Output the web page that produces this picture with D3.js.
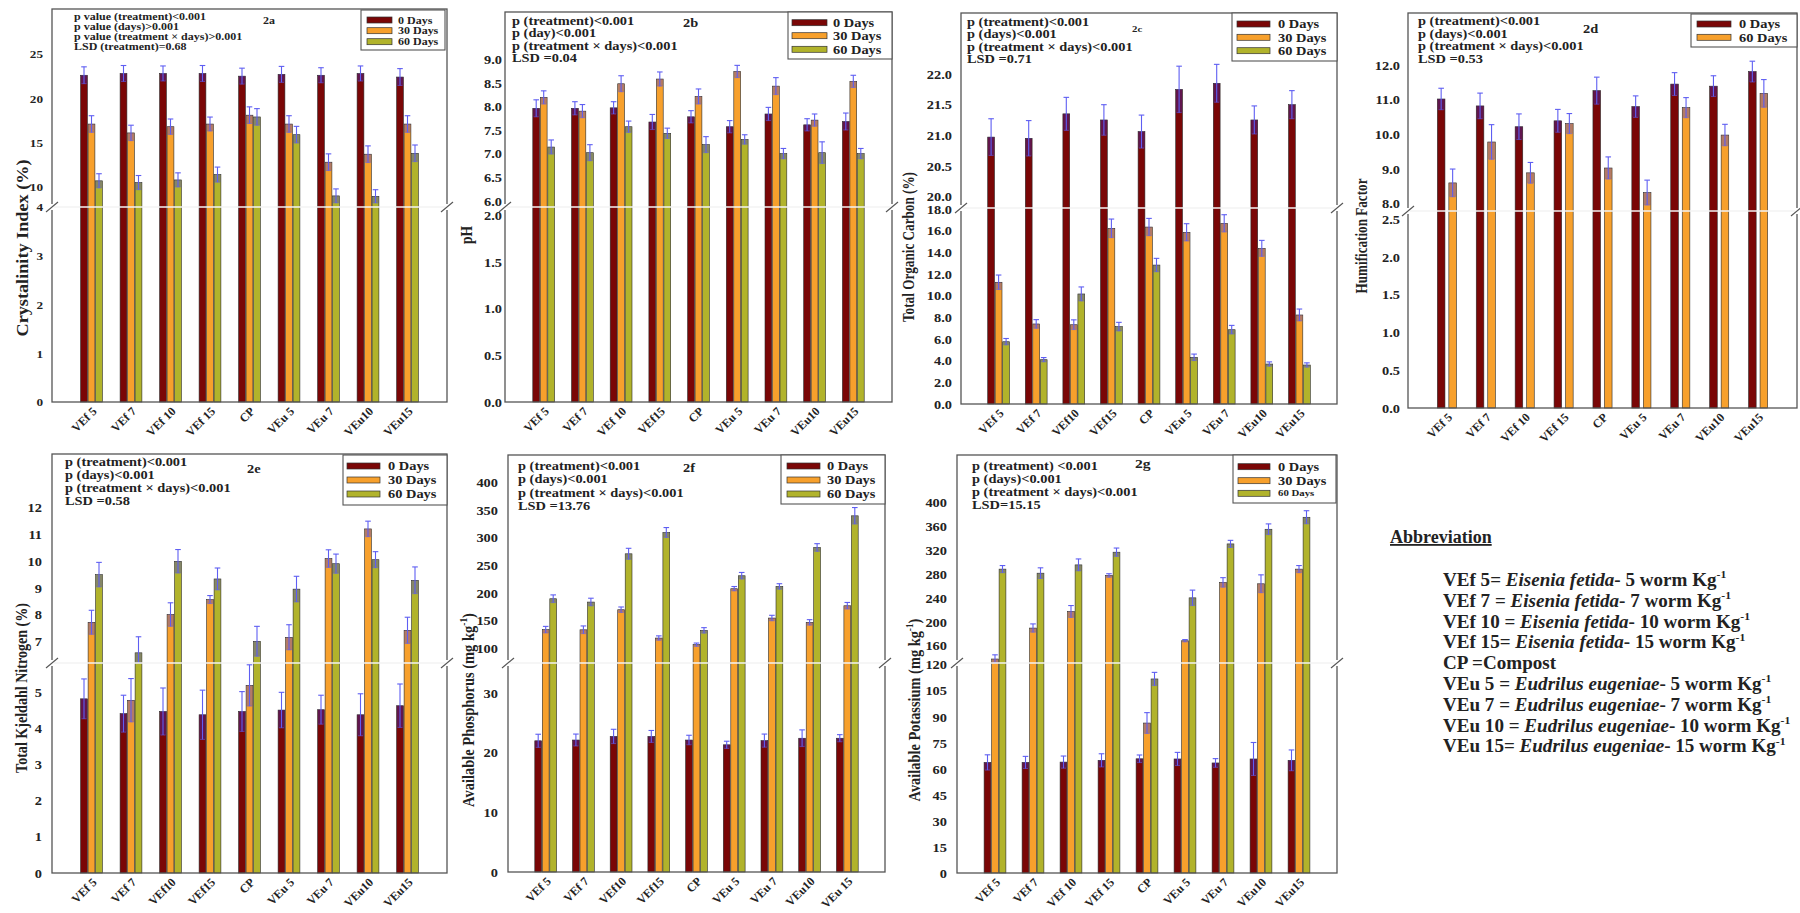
<!DOCTYPE html>
<html><head><meta charset="utf-8">
<script src="https://cdn.jsdelivr.net/npm/d3@7/dist/d3.min.js"></script>
<style>
body{margin:0;background:#fff;}
svg{display:block;}
</style></head><body>
<svg id="c" width="1800" height="913"></svg>
<script>
// ---------------- DATA ----------------
const days3 = ["0 Days", "30 Days", "60 Days"];
const days2 = ["0 Days", "60 Days"];

const labelsA = ["VEf 5","VEf 7","VEf 10","VEf 15","CP","VEu 5","VEu 7","VEu10","VEu15"];
const labelsB = ["VEf 5","VEf 7","VEf 10","VEf15","CP","VEu 5","VEu 7","VEu10","VEu15"];
const labelsC = ["VEf 5","VEf 7","VEf10","VEf15","CP","VEu 5","VEu 7","VEu10","VEu15"];
const labelsD = ["VEf 5","VEf 7","VEf 10","VEf 15","CP","VEu 5","VEu 7","VEu10","VEu15"];
const labelsE = ["VEf 5","VEf 7","VEf10","VEf15","CP","VEu 5","VEu 7","VEu10","VEu15"];
const labelsF = ["VEf 5","VEf 7","VEf10","VEf15","CP","VEu 5","VEu 7","VEu10","VEu 15"];
const labelsG = ["VEf 5","VEf 7","VEf 10","VEf 15","CP","VEu 5","VEu 7","VEu10","VEu15"];

// 2a Crystallinity index (%)
const ci0  = [22.6, 22.8, 22.8, 22.8, 22.5, 22.7, 22.6, 22.8, 22.4];
const ci30 = [17.1, 16.1, 16.8, 17.1, 18.1, 17.1, 12.8, 13.7, 17.1];
const ci60 = [10.7, 10.5, 10.8, 11.4, 17.9, 15.9, 9.0, 8.95, 13.8];
const ciE0  = [0.95, 0.9, 0.85, 0.9, 0.9, 0.9, 0.85, 0.85, 0.95];
const ciE30 = [0.94, 0.87, 0.87, 0.79, 0.94, 0.94, 0.94, 0.94, 0.94];
const ciE60 = [0.8, 0.8, 0.8, 0.85, 0.94, 0.94, 0.79, 0.75, 0.94];

// 2b pH
const ph0  = [7.96, 7.96, 7.97, 7.67, 7.78, 7.57, 7.84, 7.61, 7.68];
const ph30 = [8.19, 7.90, 8.48, 8.58, 8.21, 8.74, 8.43, 7.71, 8.53];
const ph60 = [7.14, 7.02, 7.57, 7.43, 7.19, 7.30, 7.00, 7.02, 7.00];
const phE0  = [0.18, 0.14, 0.13, 0.16, 0.13, 0.13, 0.14, 0.13, 0.18];
const phE30 = [0.14, 0.14, 0.17, 0.15, 0.16, 0.13, 0.18, 0.13, 0.13];
const phE60 = [0.15, 0.17, 0.12, 0.11, 0.17, 0.10, 0.11, 0.23, 0.11];

// 2c Total organic carbon (%)
const toc0  = [20.97, 20.95, 21.35, 21.25, 21.06, 21.75, 21.85, 21.25, 21.50];
const toc30 = [11.24, 7.39, 7.32, 16.22, 16.34, 15.85, 16.68, 14.37, 8.22];
const toc60 = [5.75, 4.09, 10.16, 7.14, 12.83, 4.31, 6.86, 3.69, 3.60];
const tocE0  = [0.30, 0.29, 0.27, 0.25, 0.27, 0.38, 0.31, 0.23, 0.23];
const tocE30 = [0.67, 0.40, 0.45, 0.86, 0.80, 0.80, 0.80, 0.74, 0.55];
const tocE60 = [0.30, 0.20, 0.65, 0.40, 0.62, 0.30, 0.40, 0.20, 0.20];

// 2d Humification factor
const hf0  = [11.02, 10.82, 10.22, 10.39, 11.26, 10.80, 11.45, 11.39, 11.81];
const hf60 = [8.60, 9.78, 8.89, 10.31, 9.03, 8.32, 10.77, 9.98, 11.18];
const hfE0  = [0.31, 0.37, 0.37, 0.33, 0.39, 0.31, 0.33, 0.30, 0.30];
const hfE60 = [0.40, 0.50, 0.30, 0.29, 0.32, 0.36, 0.29, 0.31, 0.40];

// 2e Total Kjeldahl nitrogen (%)
const tkn0  = [4.81, 4.40, 4.46, 4.37, 4.46, 4.50, 4.51, 4.37, 4.62];
const tkn30 = [7.71, 4.77, 8.00, 8.56, 5.18, 7.15, 10.09, 11.20, 7.41];
const tkn60 = [9.49, 6.57, 9.99, 9.33, 7.00, 8.95, 9.90, 10.05, 9.28];
const tknE0  = [0.55, 0.51, 0.65, 0.68, 0.55, 0.49, 0.40, 0.58, 0.60];
const tknE30 = [0.45, 0.60, 0.44, 0.15, 0.57, 0.47, 0.33, 0.29, 0.49];
const tknE60 = [0.46, 0.60, 0.44, 0.41, 0.56, 0.48, 0.36, 0.30, 0.50];

// 2f Available phosphorus (mg/kg)
const ap0  = [21.97, 22.1, 22.7, 22.7, 22.1, 21.3, 22.0, 22.4, 22.4];
const ap30 = [133.2, 133.0, 169.4, 118.0, 106.0, 207.5, 154.3, 146.4, 176.6];
const ap60 = [189.3, 183.3, 270.8, 309.4, 131.9, 231.0, 211.6, 282.2, 339.7];
const apE0  = [1.1, 1.0, 1.2, 1.0, 0.8, 0.6, 1.1, 1.4, 0.6];
const apE30 = [6, 7, 5, 4, 3, 4, 5, 5, 6];
const apE60 = [7, 7, 10, 9, 5, 6, 5, 7, 15];

// 2g Available potassium (mg/kg)
const ak0  = [63.7, 63.7, 63.9, 64.9, 65.8, 65.7, 63.4, 65.7, 64.9];
const ak30 = [137.7, 189.6, 217.4, 277.8, 86.4, 168.3, 266.2, 263.9, 288.5];
const ak60 = [288.5, 281.7, 295.6, 316.9, 111.8, 240.3, 330.8, 355.4, 375.5];
const akE0  = [4.4, 3.5, 3.5, 3.8, 2.2, 3.8, 2.5, 9.5, 6];
const akE30 = [7, 7, 10, 3, 6, 2, 8, 15, 6];
const akE60 = [6, 9, 10, 7, 3.8, 13, 6, 9, 11];

// tick values
const ticksA_lo = [0,1,2,3,4],              ticksA_up = [10,15,20,25];
const ticksB_lo = [0,0.5,1,1.5,2],          ticksB_up = [6,6.5,7,7.5,8,8.5,9];
const ticksC_lo = [0,2,4,6,8,10,12,14,16,18], ticksC_up = [20,20.5,21,21.5,22];
const ticksD_lo = [0,0.5,1,1.5,2,2.5],      ticksD_up = [8,9,10,11,12];
const ticksE_lo = [0,1,2,3,4,5],            ticksE_up = [7,8,9,10,11,12];
const ticksF_lo = [0,10,20,30],             ticksF_up = [100,150,200,250,300,350,400];
const ticksG_lo = [0,15,30,45,60,75,90,105,120], ticksG_up = [160,200,240,280,320,360,400];

const annA = ["p value (treatment)<0.001","p value (days)>0.001","p value (treatment \u00d7 days)>0.001","LSD (treatment)=0.68"];
const annB = ["p (treatment)<0.001","p (day)<0.001","p (treatment \u00d7 days)<0.001","LSD =0.04"];
const annC = ["p (treatment)<0.001","p (days)<0.001","p (treatment \u00d7 days)<0.001","LSD =0.71"];
const annD = ["p (treatment)<0.001","p (days)<0.001","p (treatment \u00d7 days)<0.001","LSD =0.53"];
const annE = ["p (treatment)<0.001","p (days)<0.001","p (treatment \u00d7 days)<0.001","LSD =0.58"];
const annF = ["p (treatment)<0.001","p (days)<0.001","p (treatment \u00d7 days)<0.001","LSD =13.76"];
const annG = ["p (treatment) <0.001","p (days)<0.001","p (treatment \u00d7 days)<0.001","LSD=15.15"];

const abbrev = [
  ["VEf 5=  ","Eisenia fetida","- 5 worm Kg"],
  ["VEf 7 = ","Eisenia fetida","- 7 worm Kg"],
  ["VEf 10 = ","Eisenia fetida","- 10 worm Kg"],
  ["VEf 15= ","Eisenia fetida","- 15 worm Kg"],
  ["CP =Compost","",""],
  ["VEu 5 = ","Eudrilus eugeniae","- 5 worm Kg"],
  ["VEu 7 = ","Eudrilus eugeniae","- 7 worm Kg"],
  ["VEu 10 = ","Eudrilus eugeniae","- 10 worm Kg"],
  ["VEu 15= ","Eudrilus eugeniae","- 15 worm Kg"]
];

// ---------------- STYLE / LAYOUT ----------------
const FONT = "'Liberation Serif','Times New Roman',serif";
const BAR = ["#7a0606", "#f7a02c", "#b1b32b"];
const SX = 1.2;
const svg = d3.select("#c").attr("font-family", FONT);

const panels = [
 {labels:labelsA, series:[ci0,ci30,ci60], errs:[ciE0,ciE30,ciE60], names:days3,
  lowerDom:[0,4], upperDom:[7.75,30.07], lt:ticksA_lo, ut:ticksA_up, fmt:d3.format("d"),
  title:[{t:"Crystalinity Index (%)"}], ann:annA, tag:"2a",
  L:{x0:52,y0:9,x1:447,y1:402,brk:207,tp:9,ts:11,tx:22,ty:248,tl:177,
     ax:74,ay:20,ad:10,as:10,gx:263,gy:24,gs:10,
     leg:{x0:361,y0:10,x1:445,y1:50,rows:[20,30.7,41.7],s0:367,s1:392,tx:398,fs:10}}},
 {labels:labelsB, series:[ph0,ph30,ph60], errs:[phE0,phE30,phE60], names:days3,
  lowerDom:[0,2.09], upperDom:[5.87,10.0], lt:ticksB_lo, ut:ticksB_up, fmt:d3.format(".1f"),
  title:[{t:"pH"}], ann:annB, tag:"2b",
  L:{x0:505,y0:12,x1:892,y1:402,brk:207,tp:3,ts:12,tx:466,ty:235,tl:18,
     ax:512,ay:25,ad:12.3,as:12,gx:683,gy:27,gs:12,
     leg:{x0:788,y0:12,x1:892,y1:59,rows:[22.7,35.7,49.3],s0:792,s1:827,tx:833,fs:12}}},
 {labels:labelsC, series:[toc0,toc30,toc60], errs:[tocE0,tocE30,tocE60], names:days3,
  lowerDom:[0,18.1], upperDom:[19.81,23.0], lt:ticksC_lo, ut:ticksC_up, fmt:d3.format(".1f"),
  title:[{t:"Total Organic Carbon (%)"}], ann:annC, tag:"2c",
  L:{x0:961,y0:13,x1:1337,y1:404,brk:208,tp:9,ts:12,tx:908,ty:247,tl:150,
     ax:967,ay:26,ad:12.3,as:12,gx:1132,gy:32,gs:9,
     leg:{x0:1232,y0:13,x1:1337,y1:61,rows:[24,37.3,50.7],s0:1237,s1:1270,tx:1278,fs:12}}},
 {labels:labelsD, series:[hf0,hf60], errs:[hfE0,hfE60], names:days2,
  lowerDom:[0,2.61], upperDom:[7.79,13.5], lt:ticksD_lo, ut:ticksD_up, fmt:d3.format(".1f"),
  title:[{t:"Humification Factor"}], ann:annD, tag:"2d",
  L:{x0:1408,y0:13,x1:1797,y1:408,brk:211,tp:8,ts:12,tx:1361,ty:236,tl:115,
     ax:1418,ay:25,ad:12.6,as:12,gx:1583,gy:33,gs:12,
     leg:{x0:1691,y0:14,x1:1797,y1:47,rows:[24,37.3],s0:1697,s1:1731,tx:1739,fs:12}}},
 {labels:labelsE, series:[tkn0,tkn30,tkn60], errs:[tknE0,tknE30,tknE60], names:days3,
  lowerDom:[0,5.8], upperDom:[6.19,14.0], lt:ticksE_lo, ut:ticksE_up, fmt:d3.format("d"),
  title:[{t:"Total Kjeldahl Nitrogen (%)"}], ann:annE, tag:"2e",
  L:{x0:52,y0:454,x1:447,y1:873,brk:663,tp:10,ts:12,tx:21,ty:688,tl:170,
     ax:65,ay:466,ad:13,as:12,gx:247,gy:473,gs:12,
     leg:{x0:343,y0:455,x1:447,y1:505,rows:[466,480,494],s0:347,s1:380,tx:388,fs:12}}},
 {labels:labelsF, series:[ap0,ap30,ap60], errs:[apE0,apE30,apE60], names:days3,
  lowerDom:[0,35.0], upperDom:[72.8,450], lt:ticksF_lo, ut:ticksF_up, fmt:d3.format("d"),
  title:[{t:"Available Phosphorus (mg kg"},{t:"-1",sup:true},{t:")"}], ann:annF, tag:"2f",
  L:{x0:508,y0:455,x1:885,y1:872,brk:663,tp:10,ts:12,tx:468,ty:710,tl:194,
     ax:518,ay:470,ad:13.3,as:12,gx:683,gy:472,gs:12,
     leg:{x0:781,y0:455,x1:885,y1:504,rows:[466,480,494],s0:787,s1:820,tx:827,fs:12}}},
 {labels:labelsG, series:[ak0,ak30,ak60], errs:[akE0,akE30,akE60], names:days3,
  lowerDom:[0,121], upperDom:[131,480], lt:ticksG_lo, ut:ticksG_up, fmt:d3.format("d"),
  title:[{t:"Available Potassium (mg kg"},{t:"-1",sup:true},{t:")"}], ann:annG, tag:"2g",
  L:{x0:957,y0:455,x1:1337,y1:873,brk:663,tp:10,ts:12,tx:914,ty:710,tl:183,
     ax:972,ay:470,ad:13,as:12,gx:1135,gy:468,gs:13,
     leg:{x0:1233,y0:455,x1:1336,y1:503,rows:[466.7,480.7,493.3],s0:1238,s1:1270,tx:1278,fs:12,small:[false,false,true]}}}
];

function drawPanel(p){
  const L = p.L;
  const g = svg.append("g");
  const n = p.series.length;
  const x = d3.scalePoint().domain(d3.range(p.labels.length)).range([L.x0, L.x1]).padding(1);
  const lo = d3.scaleLinear().domain(p.lowerDom).range([L.y1, L.brk]);
  const up = d3.scaleLinear().domain(p.upperDom).range([L.brk, L.y0]);
  const Y = v => v <= p.lowerDom[1] ? lo(Math.max(0, v)) : (v < p.upperDom[0] ? L.brk : up(v));
  const pitch = n === 3 ? 7.5 : 11.5, bw = n === 3 ? 6.8 : 7.6;

  const flat = [];
  p.series.forEach((arr, s) => arr.forEach((v, i) => flat.push({s, i, v, e: p.errs[s][i]})));
  const cxOf = d => x(d.i) + (d.s - (n - 1) / 2) * pitch;

  g.selectAll("rect.bar").data(flat).join("rect").attr("class","bar")
    .attr("x", d => cxOf(d) - bw/2).attr("width", bw)
    .attr("y", d => Y(d.v)).attr("height", d => Y(0) - Y(d.v))
    .attr("fill", d => BAR[d.s]).attr("stroke", "#2a2a2a").attr("stroke-width", 0.6);

  g.selectAll("rect.band").data(flat).join("rect").attr("class","band")
    .attr("x", d => cxOf(d) - bw/2 + 0.4).attr("width", bw - 0.8)
    .attr("y", d => Y(d.v)).attr("height", d => Math.max(0, Y(d.v - d.e) - Y(d.v)))
    .attr("fill", "#3535d8").attr("fill-opacity", 0.35);

  g.selectAll("line.err").data(flat).join("line").attr("class","err")
    .attr("x1", cxOf).attr("x2", cxOf)
    .attr("y1", d => Y(d.v - d.e)).attr("y2", d => Y(d.v + d.e))
    .attr("stroke", "#5e5ef2").attr("stroke-width", 1.1);
  g.selectAll("line.cap").data(flat).join("line").attr("class","cap")
    .attr("x1", d => cxOf(d) - 2.8).attr("x2", d => cxOf(d) + 2.8)
    .attr("y1", d => Y(d.v + d.e)).attr("y2", d => Y(d.v + d.e))
    .attr("stroke", "#5e5ef2").attr("stroke-width", 1.1);
  g.selectAll("line.cap2").data(flat).join("line").attr("class","cap2")
    .attr("x1", d => cxOf(d) - 2.5).attr("x2", d => cxOf(d) + 2.5)
    .attr("y1", d => Y(d.v - d.e)).attr("y2", d => Y(d.v - d.e))
    .attr("stroke", "#5e5ef2").attr("stroke-width", 0.8).attr("stroke-opacity", 0.7);

  g.append("line").attr("x1", L.x0).attr("x2", L.x1).attr("y1", L.brk).attr("y2", L.brk)
    .attr("stroke", "#f3f3f3").attr("stroke-width", 1.6);

  g.append("rect").attr("x", L.x0).attr("y", L.y0).attr("width", L.x1 - L.x0).attr("height", L.y1 - L.y0)
    .attr("fill", "none").attr("stroke", "#555").attr("stroke-width", 1.3);
  [L.x0, L.x1].forEach(xx => {
    g.append("rect").attr("x", xx - 2).attr("y", L.brk - 3).attr("width", 4).attr("height", 6).attr("fill", "#fff");
    g.append("line").attr("x1", xx - 6).attr("y1", L.brk + 5).attr("x2", xx + 6).attr("y2", L.brk - 5)
      .attr("stroke", "#555").attr("stroke-width", 1.1);
  });

  [[lo, p.lt], [up, p.ut]].forEach(([sc, tv]) => {
    const ax = g.append("g").attr("transform", `translate(${L.x0},0)`)
      .call(d3.axisLeft(sc).tickValues(tv).tickSize(0).tickPadding(0).tickFormat(p.fmt));
    ax.select(".domain").remove();
    ax.attr("font-family", FONT).attr("font-size", L.ts).attr("font-weight", "bold");
    ax.selectAll("text").attr("x", 0).attr("dy", "0.35em").attr("fill", "#222")
      .attr("transform", `translate(${-L.tp},0) scale(${SX},1)`);
  });

  g.selectAll("text.xl").data(p.labels).join("text").attr("class","xl")
    .attr("transform", (d, i) => `translate(${x(i) + 6},${L.y1 + 10}) rotate(-45)`)
    .attr("text-anchor", "end").attr("font-size", 12).attr("font-weight", "bold").attr("fill", "#222")
    .text(d => d);

  const t = g.append("text").attr("text-anchor", "middle").attr("font-size", 17)
    .attr("font-weight", "bold").attr("fill", "#222").attr("dy", "0.35em");
  p.title.forEach((part, k) => {
    const ts = t.append("tspan").text(part.t);
    if (part.sup) ts.attr("font-size", 11).attr("dy", "-0.6em");
    else if (k > 0 && p.title[k - 1].sup) ts.attr("dy", "0.4em");
  });
  const len = t.node().getComputedTextLength();
  t.attr("transform", `translate(${L.tx},${L.ty}) rotate(-90) scale(${L.tl / len},1)`);

  p.ann.forEach((line, k) => {
    g.append("text").attr("transform", `translate(${L.ax},${L.ay + k * L.ad}) scale(${SX},1)`)
      .attr("font-size", L.as).attr("font-weight", "bold").attr("fill", "#222").text(line);
  });
  g.append("text").attr("transform", `translate(${L.gx},${L.gy}) scale(${SX},1)`)
    .attr("font-size", L.gs).attr("font-weight", "bold").attr("fill", "#222").text(p.tag);

  const lg = L.leg;
  g.append("rect").attr("x", lg.x0).attr("y", lg.y0).attr("width", lg.x1 - lg.x0).attr("height", lg.y1 - lg.y0)
    .attr("fill", "#fff").attr("stroke", "#555").attr("stroke-width", 1.1);
  p.names.forEach((nm, s) => {
    const ry = lg.rows[s];
    g.append("rect").attr("x", lg.s0).attr("y", ry - 3).attr("width", lg.s1 - lg.s0).attr("height", 6)
      .attr("fill", BAR[s]).attr("stroke", "#333").attr("stroke-width", 0.7);
    const small = lg.small && lg.small[s];
    g.append("text").attr("transform", `translate(${lg.tx},${ry}) scale(${SX},1)`)
      .attr("dy", "0.35em").attr("font-size", small ? 9 : lg.fs).attr("font-weight", "bold")
      .attr("fill", "#222").text(nm);
  });
}

panels.forEach(drawPanel);

const ab = svg.append("g");
ab.append("text").attr("x", 1390).attr("y", 543).attr("font-size", 18).attr("font-weight", "bold")
  .attr("text-decoration", "underline").attr("fill", "#222").text("Abbreviation");
abbrev.forEach((row, k) => {
  const t = ab.append("text").attr("transform", `translate(1443,${586 + k * 20.8}) scale(1.06,1)`)
    .attr("font-size", 18).attr("font-weight", "bold").attr("fill", "#222");
  t.append("tspan").text(row[0]);
  if (row[1]) {
    t.append("tspan").attr("font-style", "italic").text(row[1]);
    t.append("tspan").text(row[2]);
    t.append("tspan").attr("font-size", 11).attr("dy", "-0.7em").text("-1");
  }
});
</script>
</body></html>
